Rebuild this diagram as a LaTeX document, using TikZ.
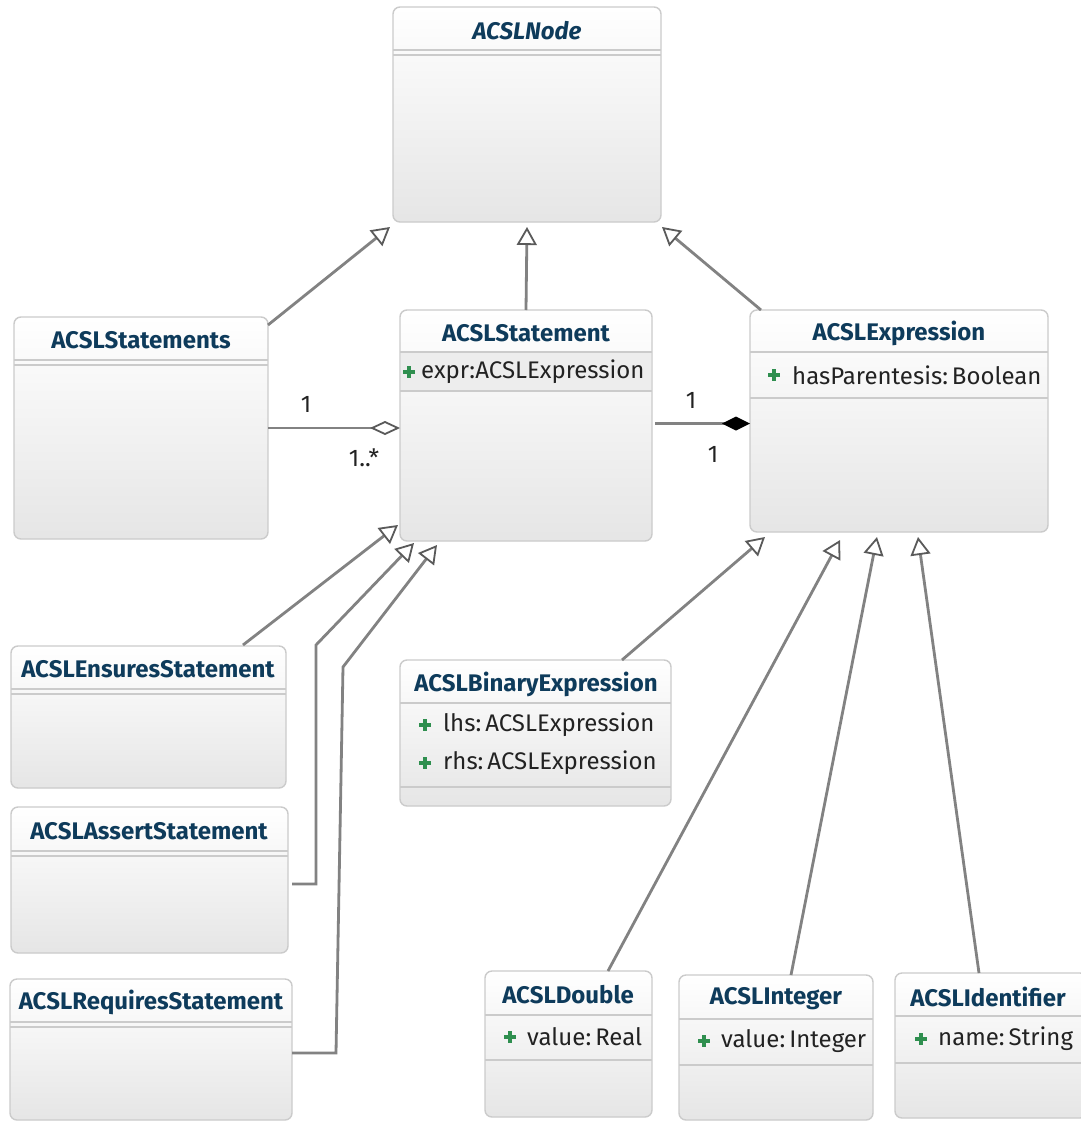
\documentclass[tikz,border=0pt]{standalone}
\usepackage{fontspec}
\setmainfont{Fira Sans}
\usetikzlibrary{arrows.meta,calc}
\definecolor{titleblue}{HTML}{0E3B5B}
\definecolor{boxline}{HTML}{CBCBCB}
\definecolor{conn}{HTML}{828282}
\definecolor{tipline}{HTML}{5A5A5A}
\definecolor{plusgreen}{HTML}{2F8F4F}
\definecolor{attrband}{HTML}{EDEDED}
\definecolor{txt}{HTML}{222222}
\begin{document}
\begin{tikzpicture}[x=1pt,y=-1pt,
  umlbox/.style={draw=boxline, line width=1.4pt, rounded corners=7pt, top color=white, bottom color=black!10, anchor=north west, inner sep=0pt, outer sep=0pt},
  classname/.style={font=\fontsize{24}{24}\selectfont\bfseries, text=titleblue, inner sep=0pt},
  attr/.style={font=\fontsize{24}{24}\selectfont, text=txt, anchor=west, inner sep=0pt},
  mult/.style={font=\fontsize{24}{24}\selectfont, text=txt, inner sep=0pt},
  sepline/.style={draw=boxline, line width=1.3pt},
  plusicon/.style={draw=plusgreen, line width=3.6pt},
  conline/.style={draw=conn, line width=2.8pt},
  inherit/.style={conline, -{Triangle[open, length=18pt, width=20pt, line width=1.8pt, color=tipline, fill=white]}},
  aggreg/.style={conline, -{Diamond[open, length=30pt, width=14pt, line width=1.8pt, color=tipline, fill=white]}},
  compos/.style={conline, -{Diamond[length=28pt, width=14pt, color=black]}}
]
\useasboundingbox (0,0) rectangle (1080,1122);
\fill[white] (0,0) rectangle (1080,1122);

% ---------- ACSLNode ----------
\node[umlbox, minimum width=268pt, minimum height=215pt] (node) at (393,7) {};
\node[classname] (nodeT) at (527,31) {\itshape ACSLNode};
\draw[sepline] (393,50) -- (661,50) (393,55) -- (661,55);

% ---------- ACSLStatements ----------
\node[umlbox, minimum width=254pt, minimum height=222pt] (sts) at (14,317) {};
\node[classname] (stsT) at (141,340) {ACSLStatements};
\draw[sepline] (14,360) -- (268,360) (14,365) -- (268,365);

% ---------- ACSLStatement ----------
\node[umlbox, minimum width=252pt, minimum height=231pt] (stm) at (400,310) {};
\fill[attrband] (401,352) rectangle (651,391);
\node[classname] (stmT) at (526,333) {ACSLStatement};
\draw[sepline] (400,352) -- (652,352) (400,391) -- (652,391);
\draw[plusicon] (403,372) -- (415,372) (409,366) -- (409,378);
\node[attr] (stmA) at (421,372) {expr:ACSLExpression};

% ---------- ACSLExpression ----------
\node[umlbox, minimum width=298pt, minimum height=222pt] (exp) at (750,310) {};
\node[classname] (expT) at (899,333) {ACSLExpression};
\draw[sepline] (750,352) -- (1048,352) (750,398) -- (1048,398);
\draw[plusicon] (768,375) -- (780,375) (774,369) -- (774,381);
\node[attr] (expA) at (792,375) {hasParentesis:\,Boolean};

% ---------- ACSLEnsuresStatement ----------
\node[umlbox, minimum width=275pt, minimum height=142pt] (ens) at (11,646) {};
\node[classname] (ensT) at (148,669) {ACSLEnsuresStatement};
\draw[sepline] (11,689) -- (286,689) (11,694) -- (286,694);

% ---------- ACSLAssertStatement ----------
\node[umlbox, minimum width=277pt, minimum height=146pt] (asr) at (11,807) {};
\node[classname] (asrT) at (149,831) {ACSLAssertStatement};
\draw[sepline] (11,851) -- (288,851) (11,856) -- (288,856);

% ---------- ACSLRequiresStatement ----------
\node[umlbox, minimum width=282pt, minimum height=141pt] (req) at (10,979) {};
\node[classname] (reqT) at (151,1002) {ACSLRequiresStatement};
\draw[sepline] (10,1022) -- (292,1022) (10,1027) -- (292,1027);

% ---------- ACSLBinaryExpression ----------
\node[umlbox, minimum width=271pt, minimum height=146pt] (bin) at (400,660) {};
\node[classname] (binT) at (536,684) {ACSLBinaryExpression};
\draw[sepline] (400,703) -- (671,703) (400,787) -- (671,787);
\draw[plusicon] (419,725) -- (431,725) (425,719) -- (425,731);
\node[attr] (binA) at (443,725) {lhs:\,ACSLExpression};
\draw[plusicon] (419,763) -- (431,763) (425,757) -- (425,769);
\node[attr] (binB) at (443,763) {rhs:\,ACSLExpression};

% ---------- ACSLDouble ----------
\node[umlbox, minimum width=167pt, minimum height=146pt] (dbl) at (485,971) {};
\node[classname] (dblT) at (568,995) {ACSLDouble};
\draw[sepline] (485,1015) -- (652,1015) (485,1060) -- (652,1060);
\draw[plusicon] (504,1037) -- (516,1037) (510,1031) -- (510,1043);
\node[attr] (dblA) at (527,1037) {value:\,Real};

% ---------- ACSLInteger ----------
\node[umlbox, minimum width=194pt, minimum height=145pt] (int) at (679,975) {};
\node[classname] (intT) at (776,999) {ACSLInteger};
\draw[sepline] (679,1019) -- (873,1019) (679,1065) -- (873,1065);
\draw[plusicon] (698,1041) -- (710,1041) (704,1035) -- (704,1047);
\node[attr] (intA) at (721,1041) {value:\,Integer};

% ---------- ACSLIdentifier ----------
\node[umlbox, minimum width=192pt, minimum height=145pt] (idf) at (895,973) {};
\node[classname] (idfT) at (988,997) {ACSLIdentifier};
\draw[sepline] (895,1016) -- (1087,1016) (895,1063) -- (1087,1063);
\draw[plusicon] (915,1039) -- (927,1039) (921,1033) -- (921,1045);
\node[attr] (idfA) at (938,1039) {name:\,String};

% ---------- generalisations to ACSLNode ----------
\draw[inherit] ($(sts.north east)+(0,8)$) -- ($(node.south west)+(-3,5)$);
\draw[inherit] (stm.north) -- ($(node.south)+(0,5)$);
\draw[inherit] ($(exp.north west)+(11,0)$) -- ($(node.south east)+(1,5)$);

% ---------- aggregation / composition ----------
\draw[aggreg] (sts.east) -- (sts.east -| stm.west);
\node[mult] (m1) at (306,404) {1};
\node[mult] (m2) at (364,458) {1..*};
\coordinate (cS) at ($(stm.east)+(3,-2)$);
\draw[compos] (cS) -- (cS -| exp.west);
\node[mult] (m3) at (691,400) {1};
\node[mult] (m4) at (713,454) {1};

% ---------- generalisations to ACSLStatement ----------
\draw[inherit] ($(ens.north west)+(232,-1)$) -- ($(stm.south west)+(-2,-16)$);
\coordinate (a1) at (316,884);
\coordinate (a2) at (316,645);
\draw[inherit] ($(asr.north east)+(4,77)$) -- (a1) -- (a2) -- ($(stm.south west)+(14,2)$);
\coordinate (r1) at (336,1053);
\coordinate (r2) at (343,667);
\draw[inherit] ($(req.north east)+(0,74)$) -- (r1) -- (r2) -- ($(stm.south west)+(37,4)$);

% ---------- generalisations to ACSLExpression ----------
\draw[inherit] ($(bin.north west)+(222,0)$) -- ($(exp.south west)+(15,5)$);
\draw[inherit] ($(dbl.north west)+(123,0)$) -- ($(exp.south west)+(90,8)$);
\draw[inherit] ($(int.north west)+(112,0)$) -- ($(exp.south west)+(127,5)$);
\draw[inherit] ($(idf.north west)+(84,0)$) -- ($(exp.south west)+(168,5)$);
\end{tikzpicture}
\end{document}
